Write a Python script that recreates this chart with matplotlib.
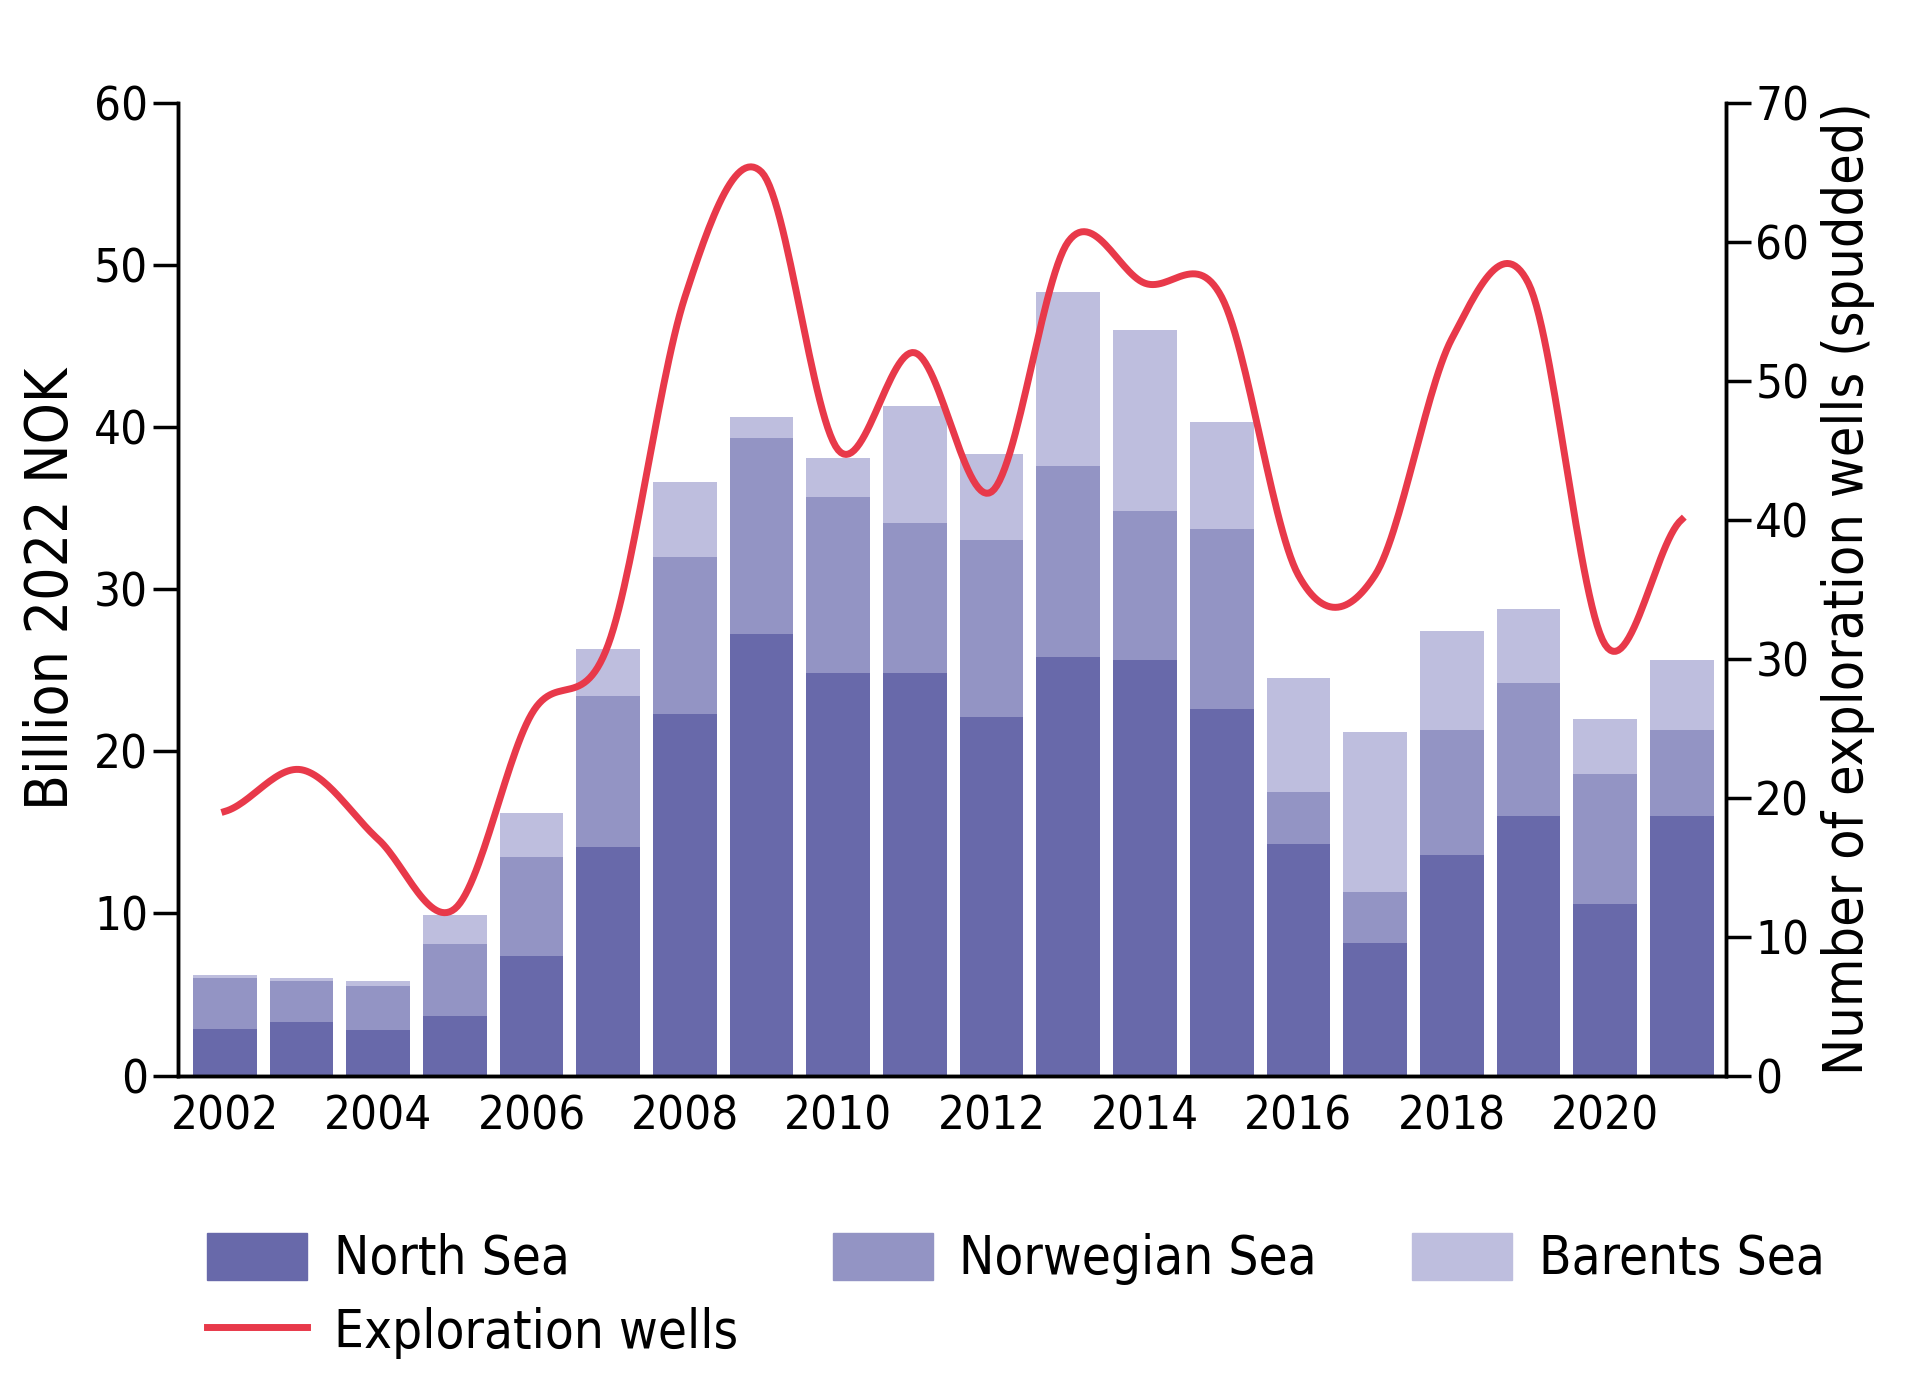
import numpy as np
import matplotlib
matplotlib.use("Agg")
import matplotlib.pyplot as plt
from matplotlib.patches import Patch
from matplotlib.lines import Line2D

years = list(range(2002, 2022))
north = [2.9, 3.3, 2.8, 3.7, 7.4, 14.1, 22.3, 27.2, 24.8, 24.8, 22.1, 25.8, 25.6, 22.6, 14.3, 8.2, 13.6, 16.0, 10.6, 16.0]
norw_cum = [6.0, 5.8, 5.5, 8.1, 13.5, 23.4, 32.0, 39.3, 35.7, 34.1, 33.0, 37.6, 34.8, 33.7, 17.5, 11.3, 21.3, 24.2, 18.6, 21.3]
total = [6.2, 6.0, 5.8, 9.9, 16.2, 26.3, 36.6, 40.6, 38.1, 41.3, 38.3, 48.3, 46.0, 40.3, 24.5, 21.2, 27.4, 28.8, 22.0, 25.6]
norwegian = [b - a for a, b in zip(north, norw_cum)]
barents = [c - b for b, c in zip(norw_cum, total)]
wells = [19, 22, 17, 12, 26, 31, 56, 65, 45, 52, 42, 60, 57, 56, 36, 36, 53, 57, 31, 40]

c_n, c_nw, c_b, c_r = "#6869aa", "#9394c4", "#bebede", "#e8394a"
plt.rcParams["font.family"] = "DejaVu Sans"
plt.rcParams["font.stretch"] = "condensed"

fig = plt.figure(figsize=(19.2, 13.86), dpi=100)
ax = fig.add_axes([0.0927, 0.224, 0.806, 0.702])
x = np.array(years, dtype=float)
w = 0.83
ax.bar(x, north, w, color=c_n)
ax.bar(x, norwegian, w, bottom=north, color=c_nw)
ax.bar(x, barents, w, bottom=norw_cum, color=c_b)
ax.set_xlim(2001.39, 2021.57)
ax.set_ylim(0, 60)
ax.set_yticks(range(0, 61, 10))
ax.set_xticks(range(2002, 2021, 2))
ax.spines["top"].set_visible(False)
for s in ax.spines.values():
    s.set_linewidth(2.5)
ax.tick_params(axis="both", labelsize=34, width=2.5, length=18, direction="out")
ax.tick_params(axis="x", length=0, pad=14)
ax.set_ylabel("Billion 2022 NOK", fontsize=42, labelpad=10)

ax2 = ax.twinx()
ax2.set_ylim(0, 70)
ax2.set_yticks(range(0, 71, 10))
for s in ax2.spines.values():
    s.set_linewidth(2.5)
ax2.spines["top"].set_visible(False)
ax2.tick_params(axis="y", labelsize=34, width=2.5, length=18, direction="out")
ax2.set_ylabel("Number of exploration wells (spudded)", fontsize=40, labelpad=8)

# smooth drawing curve (Catmull-Rom through data points)
wy = np.array(wells, dtype=float)
px = np.concatenate([[2 * x[0] - x[1]], x, [2 * x[-1] - x[-2]]])
py = np.concatenate([[wy[0]], wy, [wy[-1]]])
xs, ys = [], []
for i in range(1, len(px) - 2):
    t = np.linspace(0, 1, 30)
    p0, p1, p2, p3 = py[i - 1], py[i], py[i + 1], py[i + 2]
    yy = 0.5 * ((2 * p1) + (-p0 + p2) * t + (2 * p0 - 5 * p1 + 4 * p2 - p3) * t ** 2 + (-p0 + 3 * p1 - 3 * p2 + p3) * t ** 3)
    xs.extend(px[i] + t * (px[i + 1] - px[i]))
    ys.extend(yy)
ax2.plot(xs, ys, color=c_r, lw=5)

handles = [Patch(color=c_n, label="North Sea"),
           Line2D([0], [0], color=c_r, lw=5, label="Exploration wells"),
           Patch(color=c_nw, label="Norwegian Sea"),
           Patch(color=c_b, label="Barents Sea")]
fig.legend(handles=handles, ncol=3, loc="upper left", bbox_to_anchor=(0.083, 0.145),
           frameon=False, prop={"size": 38, "stretch": "condensed"},
           handlelength=1.9, handleheight=1.0, handletextpad=0.5,
           columnspacing=1.8, labelspacing=0.4)
fig.savefig("out.png", dpi=100)
